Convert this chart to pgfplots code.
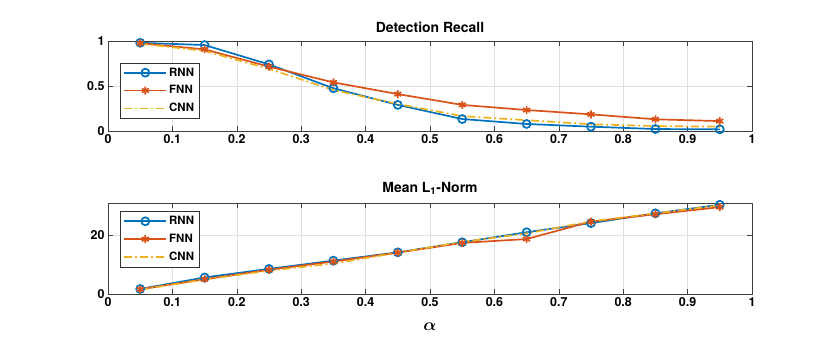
\documentclass[border=0pt]{standalone}
\usepackage{fontspec}
\setmainfont{TeX Gyre Heros}
\usepackage{amsmath}
\usepackage{pgfplots}
\pgfplotsset{compat=1.18}
\definecolor{mblue}{RGB}{0,114,189}
\definecolor{morange}{RGB}{217,83,25}
\definecolor{myellow}{RGB}{237,177,32}

\pgfplotstableread{
a     rnn    fnn    cnn
0.05  0.98   0.975  0.97
0.15  0.955  0.907  0.89
0.25  0.74   0.715  0.69
0.35  0.475  0.54   0.455
0.45  0.29   0.41   0.30
0.55  0.133  0.29   0.165
0.65  0.078  0.233  0.12
0.75  0.048  0.185  0.075
0.85  0.022  0.13   0.055
0.95  0.018  0.11   0.048
}\recall

\pgfplotstableread{
a     rnn    fnn    cnn
0.05  1.7    1.6    1.5
0.15  5.6    5.0    4.9
0.25  8.5    8.2    7.9
0.35  11.3   11.0   10.3
0.45  14.1   14.0   14.0
0.55  17.5   17.3   17.6
0.65  20.9   18.6   20.5
0.75  24.0   24.5   24.6
0.85  27.3   27.0   27.3
0.95  30.2   29.4   30.0
}\norm

\pgfplotsset{
  mystyle/.style={
    scale only axis, width=644bp,
    xmin=0, xmax=1,
    xtick={0,0.1,0.2,0.3,0.4,0.5,0.6,0.7,0.8,0.9,1},
    xticklabels={0,0.1,0.2,0.3,0.4,0.5,0.6,0.7,0.8,0.9,1},
    grid=major, grid style={black!12, line width=0.5bp},
    axis line style={black!75, line width=0.6bp},
    tick align=inside, tick pos=both, major tick length=5bp,
    tick style={black!75, line width=0.6bp},
    ticklabel style={font=\fontsize{12.5}{12.5}\selectfont\bfseries},
    /pgf/number format/assume math mode=true,
    title style={font=\fontsize{14}{14}\selectfont\bfseries, yshift=-1bp},
    legend style={font=\fontsize{11.5}{11.5}\selectfont\bfseries, draw=black!80,
      anchor=north west, inner xsep=3bp, inner ysep=3bp, row sep=4bp},
    legend cell align=left,
    legend image code/.code={\draw[line width=1.8bp, mark repeat=2,mark phase=2] plot coordinates {(0bp,0bp) (21bp,0bp) (42bp,0bp)};},
  },
  rnn/.style={color=mblue, line width=1.7bp, mark=o, mark size=4bp, mark options={solid, line width=1.7bp}},
  fnn/.style={color=morange, line width=1.7bp, mark=asterisk, mark size=4bp, mark options={solid, line width=1.7bp}},
  cnn/.style={color=myellow, line width=1.7bp, no marks, dash pattern=on 8bp off 3bp on 2bp off 3bp},
}

\begin{document}
\begin{tikzpicture}
\useasboundingbox (0,0) rectangle (830bp,343bp);
\begin{axis}[mystyle, at={(108bp,212bp)}, anchor=south west, height=90bp,
  ymin=0, ymax=1, ytick={0,0.5,1}, yticklabels={0,0.5,1},
  title={Detection Recall},
  legend style={at={(0.019,0.76)}}]
\addplot[rnn] table[x=a,y=rnn] {\recall};
\addplot[fnn] table[x=a,y=fnn] {\recall};
\addplot[cnn] table[x=a,y=cnn] {\recall};
\legend{RNN,FNN,CNN}
\end{axis}
\begin{axis}[mystyle, at={(108bp,49bp)}, anchor=south west, height=91bp,
  ymin=0, ymax=30.8, ytick={0,20}, yticklabels={0,20},
  title={Mean L\textsubscript{1}-Norm},
  xlabel={$\boldsymbol{\alpha}$}, xlabel style={font=\fontsize{16}{16}\selectfont, yshift=-9bp},
  legend style={at={(0.019,0.91)}}]
\addplot[rnn] table[x=a,y=rnn] {\norm};
\addplot[fnn] table[x=a,y=fnn] {\norm};
\addplot[cnn] table[x=a,y=cnn] {\norm};
\legend{RNN,FNN,CNN}
\end{axis}
\end{tikzpicture}
\end{document}
